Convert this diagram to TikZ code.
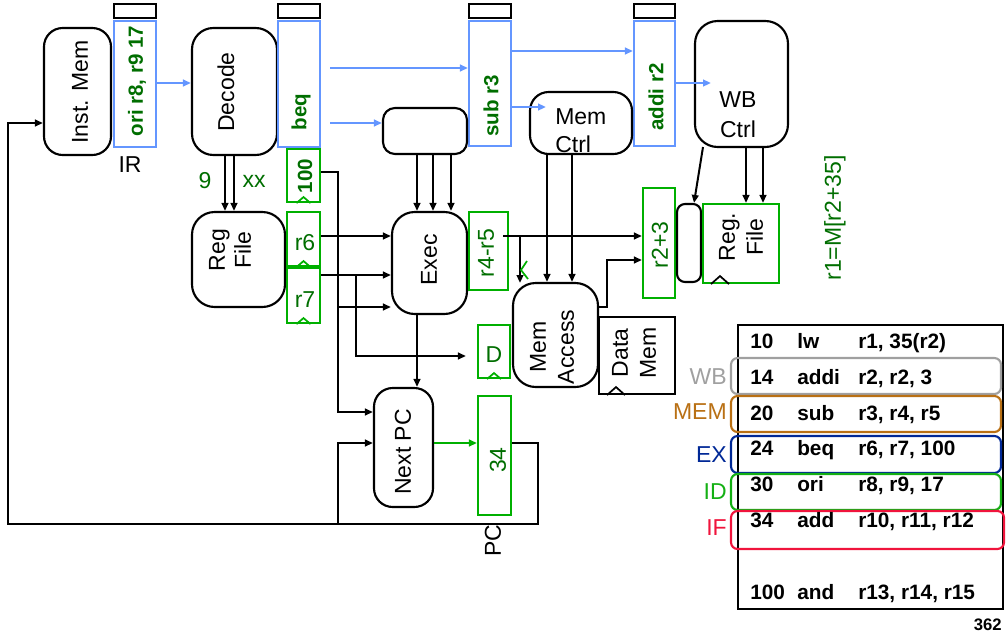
\documentclass[tikz,border=0pt]{standalone}
\usepackage{fontspec}
\setmainfont{Liberation Sans}
\usetikzlibrary{arrows.meta,fit,calc}
\definecolor{regblue}{RGB}{100,150,255}
\definecolor{boxgreen}{RGB}{0,176,0}
\definecolor{dkgreen}{RGB}{0,110,0}
\definecolor{wbgray}{RGB}{160,160,160}
\definecolor{membrown}{RGB}{185,112,20}
\definecolor{exblue}{RGB}{0,40,150}
\definecolor{idgreen}{RGB}{20,176,20}
\definecolor{ifred}{RGB}{240,20,60}
\newcommand\instrow[3]{\makebox[35.25pt][l]{#1}\makebox[45.75pt][l]{#2}#3}
\tikzset{
 rbox/.style={draw, line width=1.6pt, rounded corners=14pt, inner sep=0pt},
 bluebox/.style={draw=regblue, line width=1.6pt, inner sep=0pt},
 greenbox/.style={draw=boxgreen, line width=1.6pt, inner sep=0pt},
 blackbox/.style={draw, line width=1.6pt, inner sep=0pt},
 latch/.style={draw, line width=2.2pt, inner sep=0pt},
 wire/.style={line width=1.5pt},
 arr/.style={wire, -{Triangle[length=6pt,width=5pt]}},
 barr/.style={arr, color=regblue},
 garr/.style={arr, color=boxgreen},
 clk/.style={line width=1.3pt},
 txt/.style={inner sep=0pt, font=\fontsize{17.25}{19.5}\selectfont},
 rtxt/.style={txt, rotate=90},
 btxt/.style={inner sep=0pt, font=\bfseries\fontsize{15.4}{17}\selectfont, text=dkgreen, rotate=90},
 gtxt/.style={txt, text=dkgreen},
 rowbox/.style={line width=1.6pt, rounded corners=5pt, inner sep=0pt},
 rowtxt/.style={inner sep=0pt, anchor=base west, font=\bfseries\fontsize{15.6}{17}\selectfont},
 stagelbl/.style={txt, anchor=east},
}
\begin{document}
\begin{tikzpicture}[x=0.75pt,y=-0.75pt]
\useasboundingbox (0,0) rectangle (1006,636);
% ---- boxes ----
\node[rbox, fit={(44,28) (111,155)}] (imem) {};
\node[bluebox, fit={(114,21) (156,147)}] (ir) {};
\node[latch, fit={(114,4) (156,18)}] (irl) {};
\node[rbox, rounded corners=16pt, fit={(192,28) (277,155)}] (dec) {};
\node[bluebox, fit={(278,21) (320,147)}] (beqb) {};
\node[latch, fit={(278,4) (320,18)}] (beql) {};
\node[bluebox, fit={(469,21) (511,146)}] (subb) {};
\node[latch, fit={(469,4) (511,18)}] (subl) {};
\node[bluebox, fit={(634,21) (675,146)}] (addb) {};
\node[latch, fit={(634,4) (675,18)}] (addl) {};
\node[rbox, rounded corners=17pt, fit={(695,21) (788,147)}] (wbc) {};
\node[rbox, fit={(530,92) (632,154)}] (memc) {};
\node[rbox, rounded corners=9pt, fit={(383,108) (467,154)}] (exs) {};
\node[rbox, rounded corners=17pt, fit={(192,212) (285,307)}] (rf) {};
\node[greenbox, fit={(287,149) (320,202)}] (b100) {};
\node[greenbox, fit={(287,212) (320,266)}] (r6) {};
\node[greenbox, fit={(287,268) (320,323)}] (r7) {};
\node[rbox, rounded corners=17pt, fit={(392,212) (467,314)}] (exec) {};
\node[greenbox, fit={(469,212) (508,290)}] (r45) {};
\node[greenbox, fit={(643,188) (675,298)}] (r23) {};
\node[rbox, rounded corners=6pt, fit={(677,204) (701,282)}] (sbox) {};
\node[greenbox, fit={(703,204) (779,283)}] (rfw) {};
\node[rbox, rounded corners=17pt, fit={(513,283) (598,387)}] (macc) {};
\node[blackbox, fit={(599,317) (675,394)}] (dmem) {};
\node[greenbox, fit={(478,325) (510,378)}] (dreg) {};
\node[rbox, fit={(374,388) (433,507)}] (npc) {};
\node[greenbox, fit={(478,396) (511,515)}] (pc) {};
% ---- clock marks ----
\draw[clk, boxgreen] ($(b100.south)+(-7,0)$) -- ++(7,-6) -- ++(7,6);
\draw[clk, boxgreen] ($(r6.south)+(-7,0)$) -- ++(7,-6) -- ++(7,6);
\draw[clk, boxgreen] ($(r7.south)+(-7,0)$) -- ++(7,-6) -- ++(7,6);
\draw[clk, boxgreen] ($(dreg.south)+(-7,0)$) -- ++(7,-6) -- ++(7,6);
\draw[clk] (rfw.south -| 711,0) -- ++(9,-8) -- ++(9,8);
\draw[clk] (dmem.south -| 607,0) -- ++(9,-8) -- ++(9,8);
% ---- texts ----
\node[rtxt] (timem) at (80,92) {Inst. Mem};
\node[btxt] (tir) at (137,81) {ori r8, r9 17};
\node[txt] (tirl) at (130,165) {IR};
\node[rtxt] (tdec) at (226,92) {Decode};
\node[btxt] (tbeq) at (301,112) {beq};
\node[btxt] (tsub) at (491,106) {sub r3};
\node[btxt] (tadd) at (656,97) {addi r2};
\node[txt, align=center, font=\fontsize{17.25}{22.5}\selectfont] (twbc) at (738,115) {WB\\Ctrl};
\node[txt, align=left, anchor=west, font=\fontsize{17.25}{21}\selectfont] (tmemc) at (555,131) {Mem\\Ctrl};
\node[gtxt] (t9) at (205,181) {9};
\node[gtxt] (txx) at (254,181) {xx};
\node[btxt] (t100) at (305,176) {100};
\node[gtxt] (tr6) at (305,243) {r6};
\node[gtxt] (tr7) at (305,300) {r7};
\node[rtxt, align=center, font=\fontsize{17.25}{19.5}\selectfont] (trf) at (230,250) {Reg\\File};
\node[rtxt] (texec) at (429,260) {Exec};
\node[rtxt, text=dkgreen] (tr45) at (486,253) {r4-r5};
\node[rtxt, text=dkgreen] (tr23) at (660,245) {r2+3};
\node[rtxt, align=center, font=\fontsize{17.25}{21}\selectfont] (trfw) at (741,237) {Reg.\\File};
\node[rtxt, text=dkgreen] (tr1) at (835,218) {r1=M[r2+35]};
\node[rtxt, align=center, font=\fontsize{17.25}{21}\selectfont] (tmacc) at (552,347) {Mem\\Access};
\node[rtxt, align=center, font=\fontsize{17.25}{21}\selectfont] (tdmem) at (634,353) {Data\\Mem};
\node[gtxt] (td) at (494,355) {D};
\node[rtxt] (tnpc) at (403,452) {Next PC};
\node[rtxt, text=dkgreen] (t34) at (498,460) {34};
\node[rtxt] (tpc) at (493,541) {PC};
% ---- connectors ----
\draw[barr] (ir.east |- 0,83) -- (dec.west |- 0,83);
\draw[barr] (330,68) -- (subb.west |- 0,68);
\draw[barr] (330,123) -- (exs.west |- 0,123);
\draw[barr] (subb.east |- 0,51) -- (addb.west |- 0,51);
\draw[barr] (subb.east |- 0,107) -- (546,107);
\draw[barr] (addb.east |- 0,83) -- (711,83);
\draw[arr] (dec.south -| 225,0) -- (rf.north -| 225,0);
\draw[arr] (dec.south -| 234,0) -- (rf.north -| 234,0);
\draw[arr] (exs.south -| 417,0) -- (exec.north -| 417,0);
\draw[arr] (exs.south -| 433,0) -- (exec.north -| 433,0);
\draw[arr] (exs.south -| 451,0) -- (exec.north -| 451,0);
\draw[arr] (memc.south -| 547,0) -- (macc.north -| 547,0);
\draw[arr] (memc.south -| 572,0) -- (macc.north -| 572,0);
\draw[arr] (wbc.south -| 746,0) -- (rfw.north -| 746,0);
\draw[arr] (wbc.south -| 763,0) -- (rfw.north -| 763,0);
\draw[arr] (703,147) -- (sbox.north -| 694,0);
\draw[arr] (b100.east |- 0,172) -- (338,172) -- (338,412) -- (npc.west |- 0,412);
\draw[arr] (338,307) -- (exec.west |- 0,307);
\draw[arr] (r6.east |- 0,236) -- (exec.west |- 0,236);
\draw[arr] (r7.east |- 0,275) -- (exec.west |- 0,275);
\draw[arr] (356,275) -- (356,356) -- ($(dreg.west |- 0,356)+(-11,0)$);
\draw[arr] (exec.south -| 417,0) -- (npc.north -| 417,0);
\draw[arr] (503,236) -- (r23.west |- 0,236);
\draw[arr] (520,236) -- (520,283);
\draw[clk, boxgreen] (527,261) -- (521,270) -- (528,279);
\draw[arr] (macc.east |- 0,307) -- (607,307) -- (607,260) -- (r23.west |- 0,260);
\draw[garr] (npc.east |- 0,443) -- (pc.west |- 0,443);
\draw[arr] (338,524) -- (338,443) -- (npc.west |- 0,443);
\draw[arr] (pc.east |- 0,443) -- (538,443) -- (538,524) -- (8,524) -- (8,123) -- (imem.west |- 0,123);
% ---- instruction table ----
\node[draw, line width=2.2pt, inner sep=0pt, fit={(738,325) (1003,609)}] (tbl) {};
\node[rowbox, draw=wbgray, fit={(731,358) (1001,394)}] (rwb) {};
\node[rowbox, draw=membrown, fit={(731,396) (1001,432)}] (rmem) {};
\node[rowbox, draw=exblue, fit={(731,436) (1001,473)}] (rex) {};
\node[rowbox, draw=idgreen, fit={(731,474) (1001,510)}] (rid) {};
\node[rowbox, draw=ifred, fit={(731,511) (1004,549)}] (rif) {};
\node[rowtxt] (row1) at (750,348) {\instrow{10}{lw}{r1, 35(r2)}};
\node[rowtxt] (row2) at (750,384) {\instrow{14}{addi}{r2, r2, 3}};
\node[rowtxt] (row3) at (750,420) {\instrow{20}{sub}{r3, r4, r5}};
\node[rowtxt] (row4) at (750,455) {\instrow{24}{beq}{r6, r7, 100}};
\node[rowtxt] (row5) at (750,491) {\instrow{30}{ori}{r8, r9, 17}};
\node[rowtxt] (row6) at (750,527) {\instrow{34}{add}{r10, r11, r12}};
\node[rowtxt] (row7) at (750,599) {\instrow{100}{and}{r13, r14, r15}};
\node[stagelbl, text=wbgray] (lwb) at (727,377) {WB};
\node[stagelbl, text=membrown] (lmem) at (727,412) {MEM};
\node[stagelbl, text=exblue] (lex) at (727,455) {EX};
\node[stagelbl, text=idgreen] (lid) at (727,492) {ID};
\node[stagelbl, text=ifred] (lif) at (727,528) {IF};
\node[inner sep=0pt, anchor=east, font=\bfseries\fontsize{12.5}{14}\selectfont] (pg) at (1002,625) {362};
\end{tikzpicture}
\end{document}
